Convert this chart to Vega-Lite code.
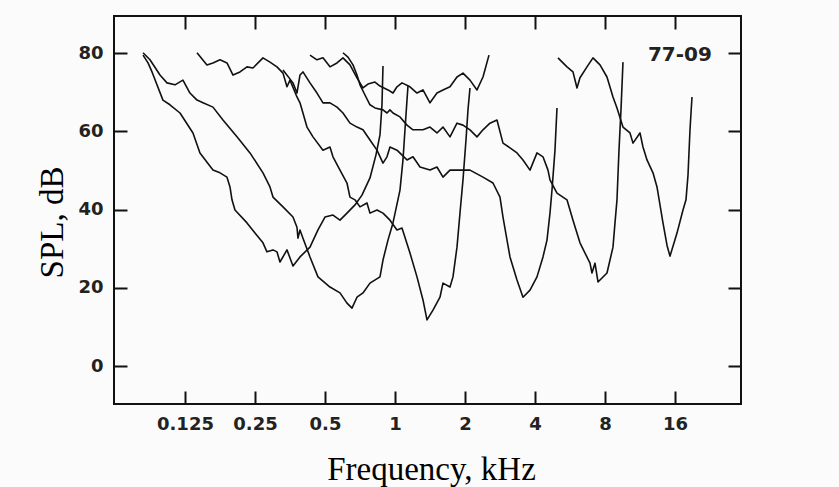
{
  "$schema": "https://vega.github.io/schema/vega-lite/v6.json",
  "width": 627,
  "height": 388,
  "autosize": {"type": "none"},
  "padding": {"left": 114, "top": 16, "right": 98, "bottom": 83},
  "background": "#fbfbfb",
  "view": {"stroke": "#111", "strokeWidth": 2, "fill": null},
  "config": {
    "axis": {
      "labelFont": "DejaVu Sans", "labelFontWeight": "bold", "labelFontSize": 18, "labelColor": "#222",
      "tickColor": "#111", "tickWidth": 2, "tickSize": -13, "domain": false, "grid": false,
      "titleFont": "Liberation Serif", "titleFontWeight": "normal", "titleFontSize": 33, "titleColor": "#000"
    }
  },
  "datasets": {
    "curves": [
      {"c":1,"f":0.0825,"d":79.5},{"c":1,"f":0.0867,"d":77.5},{"c":1,"f":0.0902,"d":75.2},{"c":1,"f":0.1005,"d":68.0},{"c":1,"f":0.1077,"d":66.8},{"c":1,"f":0.119,"d":64.7},{"c":1,"f":0.1353,"d":59.6},{"c":1,"f":0.145,"d":54.5},{"c":1,"f":0.1649,"d":50.1},{"c":1,"f":0.1768,"d":49.4},{"c":1,"f":0.1895,"d":48.3},{"c":1,"f":0.1952,"d":45.8},{"c":1,"f":0.1991,"d":42.5},{"c":1,"f":0.2051,"d":39.9},{"c":1,"f":0.231,"d":36.6},{"c":1,"f":0.25,"d":34.0},{"c":1,"f":0.2706,"d":31.5},{"c":1,"f":0.2815,"d":29.2},{"c":1,"f":0.2988,"d":29.7},{"c":1,"f":0.3108,"d":29.2},{"c":1,"f":0.3202,"d":26.6},{"c":1,"f":0.3432,"d":29.7},{"c":1,"f":0.3642,"d":25.6},{"c":1,"f":0.3904,"d":27.9},{"c":1,"f":0.431,"d":30.4},{"c":1,"f":0.4665,"d":34.8},{"c":1,"f":0.5,"d":38.1},{"c":1,"f":0.5412,"d":38.6},{"c":1,"f":0.5801,"d":37.3},{"c":1,"f":0.6217,"d":39.1},{"c":1,"f":0.673,"d":41.2},{"c":1,"f":0.7212,"d":43.7},{"c":1,"f":0.7807,"d":48.1},{"c":1,"f":0.8285,"d":54.0},{"c":1,"f":0.862,"d":59.1},{"c":1,"f":0.8792,"d":66.8},{"c":1,"f":0.888,"d":76.7},

      {"c":2,"f":0.0825,"d":80.1},{"c":2,"f":0.0884,"d":78.3},{"c":2,"f":0.0976,"d":74.4},{"c":2,"f":0.1046,"d":72.4},{"c":2,"f":0.1132,"d":71.9},{"c":2,"f":0.1225,"d":73.1},{"c":2,"f":0.1313,"d":69.8},{"c":2,"f":0.1408,"d":68.0},{"c":2,"f":0.1494,"d":67.3},{"c":2,"f":0.1649,"d":66.2},{"c":2,"f":0.1821,"d":62.9},{"c":2,"f":0.2092,"d":58.6},{"c":2,"f":0.2379,"d":54.5},{"c":2,"f":0.2706,"d":49.4},{"c":2,"f":0.29,"d":45.8},{"c":2,"f":0.2988,"d":43.2},{"c":2,"f":0.3299,"d":40.7},{"c":2,"f":0.3642,"d":38.1},{"c":2,"f":0.3789,"d":35.5},{"c":2,"f":0.3827,"d":32.7},{"c":2,"f":0.3904,"d":34.8},{"c":2,"f":0.4021,"d":32.7},{"c":2,"f":0.431,"d":27.9},{"c":2,"f":0.4665,"d":22.8},{"c":2,"f":0.5254,"d":20.2},{"c":2,"f":0.5801,"d":18.7},{"c":2,"f":0.6217,"d":16.1},{"c":2,"f":0.6532,"d":14.8},{"c":2,"f":0.6864,"d":17.6},{"c":2,"f":0.7284,"d":18.7},{"c":2,"f":0.7807,"d":21.2},{"c":2,"f":0.862,"d":22.8},{"c":2,"f":0.888,"d":27.1},{"c":2,"f":0.933,"d":32.2},{"c":2,"f":0.9804,"d":36.6},{"c":2,"f":1.0508,"d":45.0},{"c":2,"f":1.0824,"d":52.7},{"c":2,"f":1.1041,"d":60.4},{"c":2,"f":1.1262,"d":68.0},{"c":2,"f":1.1374,"d":71.6},

      {"c":3,"f":0.1408,"d":80.1},{"c":3,"f":0.1554,"d":77.0},{"c":3,"f":0.1649,"d":77.5},{"c":3,"f":0.1768,"d":78.3},{"c":3,"f":0.1895,"d":77.5},{"c":3,"f":0.2011,"d":74.4},{"c":3,"f":0.2155,"d":75.2},{"c":3,"f":0.231,"d":76.5},{"c":3,"f":0.2451,"d":76.2},{"c":3,"f":0.2706,"d":78.8},{"c":3,"f":0.29,"d":77.7},{"c":3,"f":0.3108,"d":76.5},{"c":3,"f":0.3299,"d":74.9},{"c":3,"f":0.3432,"d":71.4},{"c":3,"f":0.3536,"d":73.1},{"c":3,"f":0.3789,"d":68.8},{"c":3,"f":0.3904,"d":67.3},{"c":3,"f":0.4184,"d":61.1},{"c":3,"f":0.444,"d":58.6},{"c":3,"f":0.4902,"d":55.2},{"c":3,"f":0.5254,"d":56.0},{"c":3,"f":0.5412,"d":53.5},{"c":3,"f":0.5801,"d":50.1},{"c":3,"f":0.6217,"d":46.8},{"c":3,"f":0.6404,"d":43.2},{"c":3,"f":0.673,"d":42.5},{"c":3,"f":0.7071,"d":40.7},{"c":3,"f":0.7579,"d":41.7},{"c":3,"f":0.7807,"d":39.1},{"c":3,"f":0.8367,"d":39.9},{"c":3,"f":0.888,"d":39.1},{"c":3,"f":0.9517,"d":37.3},{"c":3,"f":1.02,"d":34.8},{"c":3,"f":1.0718,"d":35.3},{"c":3,"f":1.1601,"d":28.9},{"c":3,"f":1.2434,"d":22.8},{"c":3,"f":1.3195,"d":16.9},{"c":3,"f":1.3728,"d":11.8},{"c":3,"f":1.4569,"d":14.3},{"c":3,"f":1.5614,"d":17.6},{"c":3,"f":1.6085,"d":21.2},{"c":3,"f":1.724,"d":20.2},{"c":3,"f":1.7759,"d":22.8},{"c":3,"f":1.8477,"d":30.4},{"c":3,"f":1.9034,"d":39.1},{"c":3,"f":1.9608,"d":47.6},{"c":3,"f":2.0199,"d":57.8},{"c":3,"f":2.0603,"d":65.5},{"c":3,"f":2.1015,"d":71.1},

      {"c":4,"f":0.3299,"d":75.7},{"c":4,"f":0.3642,"d":72.4},{"c":4,"f":0.3789,"d":69.8},{"c":4,"f":0.3904,"d":74.4},{"c":4,"f":0.4021,"d":75.2},{"c":4,"f":0.431,"d":72.4},{"c":4,"f":0.4619,"d":69.8},{"c":4,"f":0.4902,"d":67.3},{"c":4,"f":0.5254,"d":67.3},{"c":4,"f":0.5631,"d":66.2},{"c":4,"f":0.5975,"d":64.7},{"c":4,"f":0.6404,"d":62.1},{"c":4,"f":0.6864,"d":61.1},{"c":4,"f":0.7284,"d":60.4},{"c":4,"f":0.7807,"d":57.8},{"c":4,"f":0.8367,"d":55.2},{"c":4,"f":0.888,"d":51.9},{"c":4,"f":0.9238,"d":53.5},{"c":4,"f":0.9517,"d":56.0},{"c":4,"f":1.02,"d":55.2},{"c":4,"f":1.1262,"d":52.7},{"c":4,"f":1.1951,"d":53.5},{"c":4,"f":1.2809,"d":50.9},{"c":4,"f":1.4142,"d":50.1},{"c":4,"f":1.5157,"d":50.9},{"c":4,"f":1.6085,"d":48.3},{"c":4,"f":1.724,"d":50.1},{"c":4,"f":1.9034,"d":50.1},{"c":4,"f":2.1015,"d":50.1},{"c":4,"f":2.3902,"d":48.3},{"c":4,"f":2.639,"d":46.8},{"c":4,"f":2.8284,"d":43.2},{"c":4,"f":2.9137,"d":38.1},{"c":4,"f":3.1228,"d":27.9},{"c":4,"f":3.347,"d":22.0},{"c":4,"f":3.5519,"d":17.6},{"c":4,"f":3.8068,"d":19.4},{"c":4,"f":4.08,"d":22.8},{"c":4,"f":4.3297,"d":27.9},{"c":4,"f":4.5046,"d":32.2},{"c":4,"f":4.6405,"d":39.1},{"c":4,"f":4.7333,"d":45.0},{"c":4,"f":4.876,"d":55.2},{"c":4,"f":4.9736,"d":66.0},

      {"c":5,"f":0.5975,"d":80.1},{"c":5,"f":0.6279,"d":79.0},{"c":5,"f":0.6598,"d":77.0},{"c":5,"f":0.6864,"d":74.4},{"c":5,"f":0.7071,"d":71.9},{"c":5,"f":0.743,"d":69.3},{"c":5,"f":0.7807,"d":66.8},{"c":5,"f":0.8203,"d":66.0},{"c":5,"f":0.888,"d":65.5},{"c":5,"f":0.9238,"d":64.7},{"c":5,"f":0.9517,"d":65.5},{"c":5,"f":0.9804,"d":64.7},{"c":5,"f":1.0508,"d":63.7},{"c":5,"f":1.1262,"d":61.6},{"c":5,"f":1.1951,"d":60.4},{"c":5,"f":1.3195,"d":60.4},{"c":5,"f":1.4142,"d":61.1},{"c":5,"f":1.5157,"d":59.6},{"c":5,"f":1.6085,"d":61.1},{"c":5,"f":1.724,"d":58.6},{"c":5,"f":1.8477,"d":62.1},{"c":5,"f":1.9608,"d":61.6},{"c":5,"f":2.1015,"d":60.4},{"c":5,"f":2.2523,"d":58.6},{"c":5,"f":2.3902,"d":60.4},{"c":5,"f":2.5617,"d":62.1},{"c":5,"f":2.7456,"d":62.9},{"c":5,"f":2.9137,"d":57.0},{"c":5,"f":3.1228,"d":55.8},{"c":5,"f":3.347,"d":54.5},{"c":5,"f":3.5519,"d":52.7},{"c":5,"f":3.8068,"d":50.1},{"c":5,"f":4.08,"d":54.5},{"c":5,"f":4.3297,"d":53.5},{"c":5,"f":4.5495,"d":50.1},{"c":5,"f":4.6405,"d":47.6},{"c":5,"f":4.9736,"d":44.2},{"c":5,"f":5.4912,"d":42.5},{"c":5,"f":5.8274,"d":37.3},{"c":5,"f":6.2457,"d":31.5},{"c":5,"f":6.8958,"d":26.3},{"c":5,"f":7.0337,"d":23.8},{"c":5,"f":7.2458,"d":26.3},{"c":5,"f":7.4643,"d":21.5},{"c":5,"f":8.16,"d":23.8},{"c":5,"f":8.6594,"d":30.4},{"c":5,"f":8.8327,"d":36.6},{"c":5,"f":9.0093,"d":42.5},{"c":5,"f":9.1895,"d":55.2},{"c":5,"f":9.3733,"d":65.5},{"c":5,"f":9.5607,"d":77.7},

      {"c":6,"f":0.431,"d":79.5},{"c":6,"f":0.4619,"d":78.3},{"c":6,"f":0.4902,"d":78.8},{"c":6,"f":0.5254,"d":76.5},{"c":6,"f":0.5631,"d":77.5},{"c":6,"f":0.5975,"d":78.8},{"c":6,"f":0.6404,"d":77.0},{"c":6,"f":0.6864,"d":73.7},{"c":6,"f":0.7284,"d":71.1},{"c":6,"f":0.7654,"d":72.1},{"c":6,"f":0.8203,"d":72.6},{"c":6,"f":0.862,"d":71.6},{"c":6,"f":0.933,"d":70.6},{"c":6,"f":0.9804,"d":69.8},{"c":6,"f":1.02,"d":71.4},{"c":6,"f":1.0718,"d":72.4},{"c":6,"f":1.1601,"d":71.4},{"c":6,"f":1.2434,"d":69.8},{"c":6,"f":1.3195,"d":70.6},{"c":6,"f":1.4142,"d":67.3},{"c":6,"f":1.5157,"d":69.8},{"c":6,"f":1.6085,"d":70.6},{"c":6,"f":1.724,"d":71.4},{"c":6,"f":1.8477,"d":73.9},{"c":6,"f":1.9608,"d":74.9},{"c":6,"f":2.1015,"d":73.1},{"c":6,"f":2.2523,"d":70.6},{"c":6,"f":2.3902,"d":73.9},{"c":6,"f":2.5365,"d":79.5},

      {"c":7,"f":5.023,"d":78.8},{"c":7,"f":5.4912,"d":76.5},{"c":7,"f":5.8274,"d":75.2},{"c":7,"f":6.0628,"d":71.1},{"c":7,"f":6.2457,"d":73.7},{"c":7,"f":6.694,"d":76.5},{"c":7,"f":7.1037,"d":78.8},{"c":7,"f":7.6136,"d":77.0},{"c":7,"f":8.16,"d":73.9},{"c":7,"f":8.6594,"d":68.8},{"c":7,"f":9.0093,"d":66.0},{"c":7,"f":9.5607,"d":61.1},{"c":7,"f":10.247,"d":59.6},{"c":7,"f":10.556,"d":57.0},{"c":7,"f":11.314,"d":59.6},{"c":7,"f":11.655,"d":56.0},{"c":7,"f":12.126,"d":52.7},{"c":7,"f":12.868,"d":49.4},{"c":7,"f":13.388,"d":45.8},{"c":7,"f":14.207,"d":36.6},{"c":7,"f":14.781,"d":30.9},{"c":7,"f":15.227,"d":28.1},{"c":7,"f":16.32,"d":34.0},{"c":7,"f":17.319,"d":39.9},{"c":7,"f":17.841,"d":42.5},{"c":7,"f":18.198,"d":48.8},{"c":7,"f":18.562,"d":60.4},{"c":7,"f":18.933,"d":68.8}
    ],
    "note": [{"label": "77-09", "f": 16.8, "d": 79.5}]
  },
  "resolve": {"axis": {"x": "independent", "y": "independent"}},
  "layer": [
    {
      "data": {"name": "curves"},
      "mark": {"type": "line", "color": "#111", "strokeWidth": 1.6, "strokeJoin": "round"},
      "encoding": {
        "x": {"field": "f", "type": "quantitative",
              "scale": {"type": "log", "domain": [0.0619, 30.76], "nice": false},
              "axis": {"orient": "bottom", "values": [0.125, 0.25, 0.5, 1, 2, 4, 8, 16], "format": "~g",
                       "labelPadding": 24, "title": "Frequency, kHz", "titleX": 317, "titleY": 75,
                       "titleBaseline": "alphabetic"}},
        "y": {"field": "d", "type": "quantitative",
              "scale": {"domain": [-9.7, 89.5], "nice": false, "zero": false},
              "axis": {"orient": "left", "values": [0, 20, 40, 60, 80], "labelPadding": 24,
                       "title": "SPL, dB", "titleX": -52, "titleY": 206, "titleAngle": 270,
                       "titleBaseline": "alphabetic", "titleAlign": "center"}},
        "detail": {"field": "c", "type": "nominal"}
      }
    },
    {
      "data": {"name": "note"},
      "mark": {"type": "text", "font": "DejaVu Sans", "fontWeight": "bold", "fontSize": 20, "color": "#222", "baseline": "middle", "align": "center"},
      "encoding": {
        "x": {"field": "f", "type": "quantitative",
              "axis": {"orient": "top", "values": [0.125, 0.25, 0.5, 1, 2, 4, 8, 16], "labels": false, "title": null}},
        "y": {"field": "d", "type": "quantitative",
              "axis": {"orient": "right", "values": [0, 20, 40, 60, 80], "labels": false, "title": null}},
        "text": {"field": "label"}
      }
    }
  ]
}
